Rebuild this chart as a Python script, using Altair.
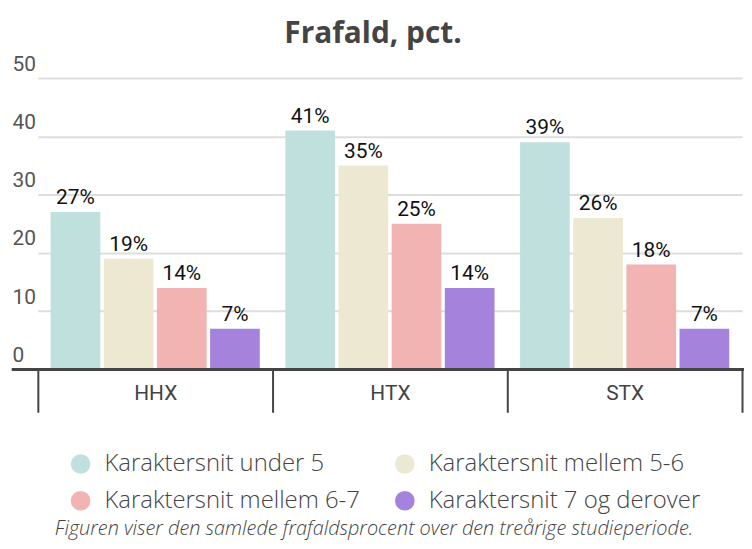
import altair as alt
import pandas as pd

title_text = "Frafald, pct."
footnote = "Figuren viser den samlede frafaldsprocent over den treårige studieperiode."
schools = ["HHX", "HTX", "STX"]
groups = ["Karaktersnit under 5", "Karaktersnit mellem 5-6",
          "Karaktersnit mellem 6-7", "Karaktersnit 7 og derover"]
colors = ["#c0e0de", "#ede8d1", "#f2b4b2", "#a583dc"]
under5 = [27, 41, 39]
m56 = [19, 35, 26]
m67 = [14, 25, 18]
over7 = [7, 14, 7]

rows = []
for g, vals in zip(groups, [under5, m56, m67, over7]):
    for s, v in zip(schools, vals):
        rows.append({"Skole": s, "Gruppe": g, "Pct": v, "Label": f"{v}%"})
df = pd.DataFrame(rows)

W, H = 736, 293

x = alt.X("Skole:N", sort=schools, title=None,
          scale=alt.Scale(range=[26, 734], paddingInner=0, paddingOuter=0),
          axis=alt.Axis(domain=False, tickBand="extent", tickSize=43, tickWidth=2,
                        tickColor="#444", labelAngle=0, labelFontSize=21,
                        labelColor="#444", labelFont="Roboto", labelPadding=-30))
xo = alt.XOffset("Gruppe:N", sort=groups,
                 scale=alt.Scale(paddingInner=0.065, paddingOuter=0.24))
y = alt.Y("Pct:Q", title=None,
          scale=alt.Scale(domain=[0, 50]),
          axis=alt.Axis(values=[0, 10, 20, 30, 40, 50], domain=False, ticks=False,
                        gridColor="#dddddd", gridWidth=2, labelAlign="left",
                        labelBaseline="bottom", labelOffset=-4, labelPadding=0,
                        labelFontSize=21, labelColor="#555", labelFont="Roboto"))
color = alt.Color("Gruppe:N", sort=groups,
                  scale=alt.Scale(domain=groups, range=colors),
                  legend=alt.Legend(title=None, orient="none", legendX=57, legendY=376,
                                    direction="horizontal", columns=2,
                                    symbolType="circle", symbolSize=390,
                                    symbolStrokeWidth=0, labelFontSize=24,
                                    labelFont="Open Sans", labelFontWeight=300,
                                    labelColor="#444",
                                    labelOffset=12, rowPadding=13, columnPadding=33,
                                    labelLimit=400))

base = alt.Chart(df)
bars = base.mark_bar().encode(x=x, xOffset=xo, y=y, color=color)
labels = base.mark_text(baseline="bottom", dy=-4, fontSize=21, font="Roboto",
                        color="#111").encode(x=x, xOffset=xo, y="Pct:Q", text="Label:N")
domain_line = alt.Chart(df).mark_rule(color="#444", strokeWidth=3).encode(
    x=alt.value(0), x2=alt.value(W), y=alt.value(H))
foot = alt.Chart(pd.DataFrame({"t": [footnote]})).mark_text(
    fontSize=20, font="Open Sans", fontStyle="italic", fontWeight=300, color="#444",
    align="center", baseline="middle").encode(
    x=alt.value(W / 2 - 4), y=alt.value(H + 160), text="t:N")

chart = alt.layer(bars, labels, domain_line, foot).properties(
    width=W, height=H,
    title=alt.Title(title_text, fontSize=30, font="Open Sans", fontWeight="bold",
                    color="#444", anchor="middle", offset=4, dx=-5),
    autosize=alt.AutoSizeParams(type="none"),
    padding={"left": 4, "top": 69, "right": 0, "bottom": 171},
).configure_view(stroke=None)

chart.save("out.html", embed_options={"renderer": "svg", "actions": False})
